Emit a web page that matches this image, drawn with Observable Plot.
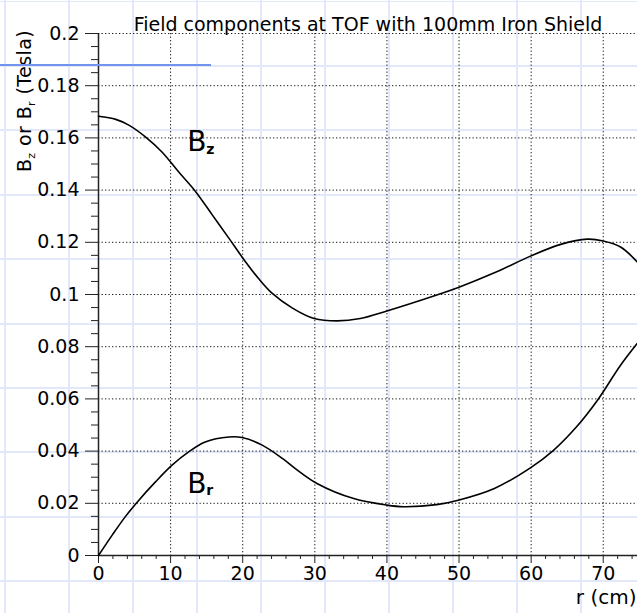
<!DOCTYPE html>
<html>
<head>
<meta charset="utf-8">
<script src="https://cdn.jsdelivr.net/npm/d3@7"></script>
<script src="https://cdn.jsdelivr.net/npm/@observablehq/plot@0.6"></script>
<style>
  html, body { margin: 0; padding: 0; background: #fff; }
  #wrap {
    position: relative; width: 637px; height: 613px; overflow: hidden;
    background-color: #fff;
    background-image:
      repeating-linear-gradient(90deg, transparent 0 4px, #e2e8fa 4px 6px, transparent 6px 64px),
      repeating-linear-gradient(180deg, transparent 0 0.5px, #e2e8fa 0.5px 2.5px, transparent 2.5px 64.4px);
  }
  #blueline { position: absolute; left: 0; top: 64px; width: 211px; height: 2px; background: #7393ec; }
  #chart { position: absolute; left: 0; top: 0; }
</style>
</head>
<body>
<div id="wrap">
  <div id="chart"></div>
  <div id="blueline"></div>
</div>
<script>
// ---- data ----
const bzR = [0, 2.4, 4.2, 6.5, 8.8, 11.1, 13.5, 15.8, 18.1, 19.9, 22.2, 24.1, 26.9, 29.9, 33.1, 36.3, 40, 44.7, 49.9, 54.9, 59.9, 64.1, 67.8, 70, 72.4, 74.7];
const bzV = [0.1683, 0.1671, 0.1649, 0.1604, 0.1546, 0.147, 0.1393, 0.1304, 0.1215, 0.1144, 0.1061, 0.1004, 0.0948, 0.0908, 0.0899, 0.0908, 0.0937, 0.0978, 0.1027, 0.1083, 0.1147, 0.1192, 0.1212, 0.1205, 0.1182, 0.1125];

const brR = [0, 1.9, 3.7, 5.6, 7.9, 10.2, 12.5, 14.8, 18.1, 19.9, 22.7, 25.5, 27.3, 30.3, 35.4, 40, 42.3, 46.9, 49.9, 54.9, 59.9, 63.1, 66.3, 69.2, 72.4, 74.7];
const brV = [0, 0.0078, 0.0148, 0.0212, 0.0282, 0.0346, 0.0397, 0.0435, 0.0454, 0.0452, 0.0423, 0.0372, 0.0333, 0.0276, 0.0218, 0.0193, 0.0187, 0.0195, 0.0212, 0.0257, 0.0336, 0.0403, 0.0493, 0.0595, 0.0729, 0.0812];

const xMajorTicks = [0, 10, 20, 30, 40, 50, 60, 70];
const xMinorTicks = [2, 4, 6, 8, 12, 14, 16, 18, 22, 24, 26, 28, 32, 34, 36, 38, 42, 44, 46, 48, 52, 54, 56, 58, 62, 64, 66, 68, 72, 74];
const yMajorTicks = [0, 0.02, 0.04, 0.06, 0.08, 0.1, 0.12, 0.14, 0.16, 0.18, 0.2];
const yMinorTicks = [0.005, 0.01, 0.015, 0.025, 0.03, 0.035, 0.045, 0.05, 0.055, 0.065, 0.07, 0.075, 0.085, 0.09, 0.095, 0.105, 0.11, 0.115, 0.125, 0.13, 0.135, 0.145, 0.15, 0.155, 0.165, 0.17, 0.175, 0.185, 0.19, 0.195];

const curveLabelMain = ["B", "B"];
const curveLabelSub = ["z", "r"];
const curveLabelR = [12.3, 12.3];
const curveLabelV = [0.1584, 0.0274];

const titleText = "Field components at TOF with 100mm Iron Shield";
const xLabelText = "r (cm)";

// ---- tables built from the arrays ----
const bz = bzR.map((r, i) => ({r, v: bzV[i]}));
const br = brR.map((r, i) => ({r, v: brV[i]}));
const curveLabels = curveLabelMain.map((m, i) => ({main: m, sub: curveLabelSub[i], r: curveLabelR[i], v: curveLabelV[i]}));

const FONT = "DejaVu Sans";
const GRID = {stroke: "#000", strokeOpacity: 0.9, strokeDasharray: "1.3,2.2", strokeWidth: 1};

const chart = Plot.plot({
  width: 637,
  height: 613,
  marginLeft: 98,
  marginRight: 0,
  marginTop: 33,
  marginBottom: 58,
  style: {background: "transparent", fontFamily: FONT, color: "#000"},
  x: {domain: [0, 74.75], axis: null},
  y: {domain: [0, 0.2], axis: null},
  marks: [
    Plot.gridX(xMajorTicks.filter(d => d > 0), GRID),
    Plot.gridY(yMajorTicks.filter(d => d > 0), GRID),
    Plot.axisX(xMinorTicks, {tickSize: 4, tickFormat: () => "", label: null, stroke: "#222"}),
    Plot.axisX(xMajorTicks, {tickSize: 8, tickPadding: 3, fontSize: 19, label: null, stroke: "#222", tickFormat: d3.format("~g")}),
    Plot.axisY(yMinorTicks, {tickSize: 7, tickFormat: () => "", label: null, stroke: "#222"}),
    Plot.axisY(yMajorTicks, {tickSize: 13, tickPadding: 6, fontSize: 19, label: null, stroke: "#222", tickFormat: d3.format("~g")}),
    Plot.ruleX([0], {stroke: "#222", strokeWidth: 1.5}),
    Plot.ruleY([0], {stroke: "#222", strokeWidth: 1.5}),
    Plot.line(bz, {x: "r", y: "v", curve: "catmull-rom", stroke: "#000", strokeWidth: 1.6}),
    Plot.line(br, {x: "r", y: "v", curve: "catmull-rom", stroke: "#000", strokeWidth: 1.6}),
    Plot.text(curveLabels, {x: "r", y: "v", text: "main", textAnchor: "start", fontSize: 28, fill: "#000"}),
    Plot.text(curveLabels, {x: "r", y: "v", text: "sub", textAnchor: "start", fontSize: 14, fontWeight: "bold", dx: 19, dy: 7, fill: "#000"}),
    Plot.text([titleText], {frameAnchor: "top", dy: -16, fontSize: 19, fill: "#000", style: "letter-spacing:0.6px"}),
    Plot.text([xLabelText], {frameAnchor: "bottom-right", textAnchor: "end", dy: 48, dx: -1, fontSize: 20, fill: "#000"})
  ]
});

// rotated y-axis label with subscripts
const svg = d3.select(chart);
const yl = svg.append("text")
  .attr("transform", "translate(31,30) rotate(-90)")
  .attr("text-anchor", "end")
  .attr("font-family", FONT)
  .attr("font-size", 19)
  .attr("letter-spacing", "0.4px")
  .attr("fill", "#000");
yl.append("tspan").text("B");
yl.append("tspan").attr("font-size", 11).attr("dy", 4).text("z");
yl.append("tspan").attr("dy", -4).text(" or B");
yl.append("tspan").attr("font-size", 11).attr("dy", 4).text("r");
yl.append("tspan").attr("dy", -4).text(" (Tesla)");

document.getElementById("chart").appendChild(chart);
</script>
</body>
</html>
